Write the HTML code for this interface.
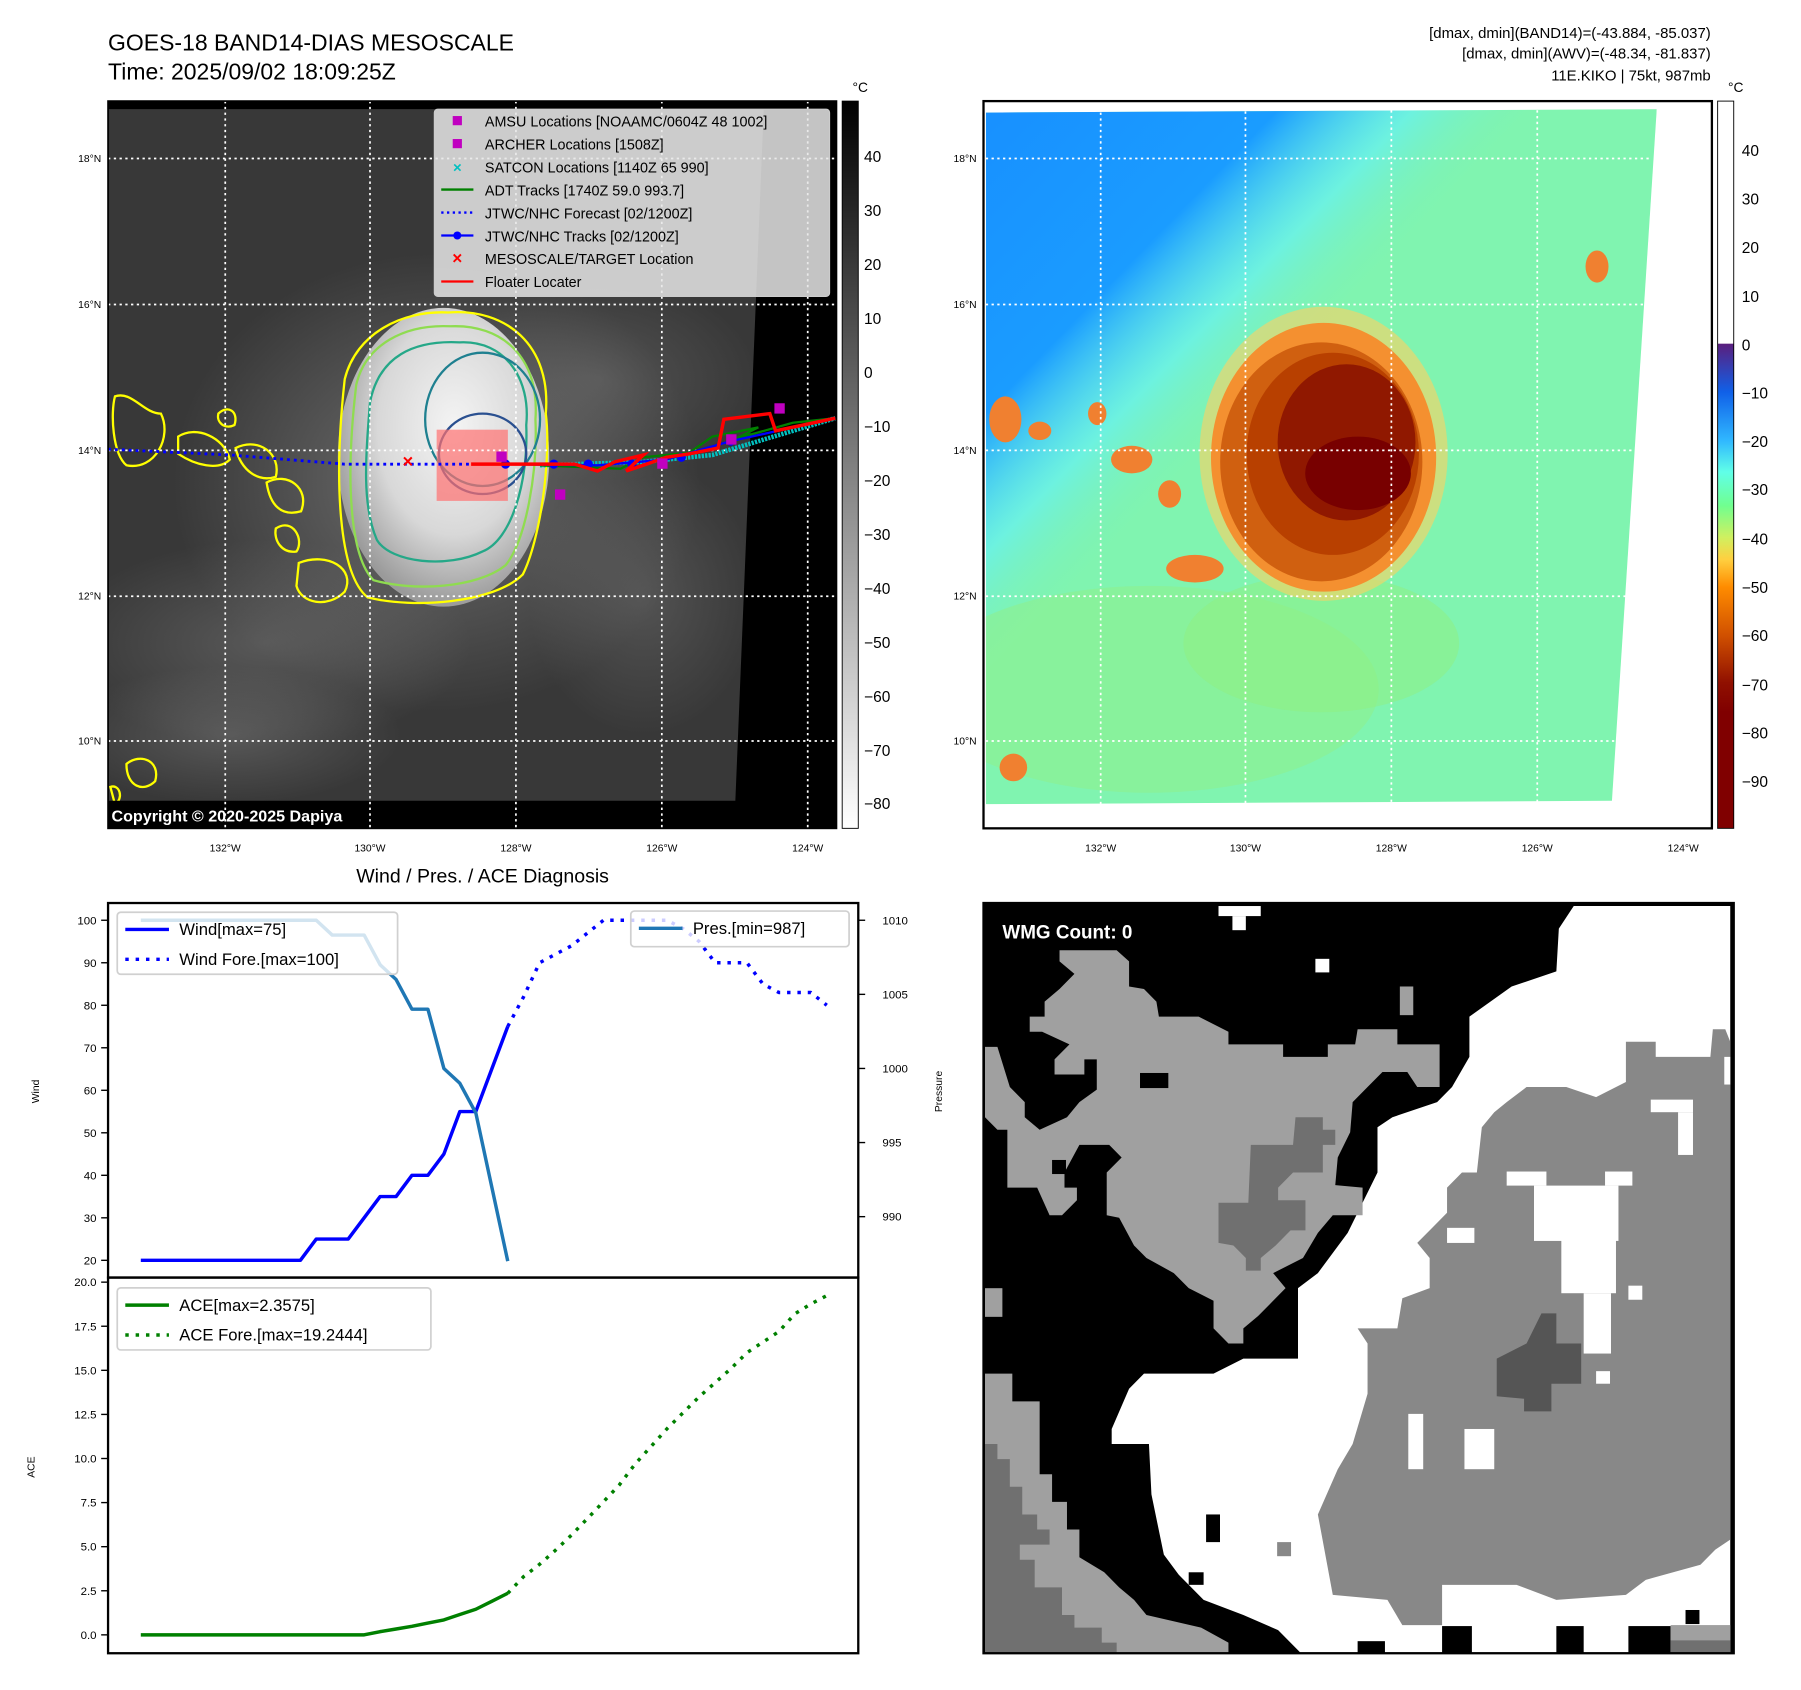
<!DOCTYPE html>
<html><head><meta charset="utf-8"><style>
html,body{margin:0;padding:0;background:#fff;}
svg{display:block;font-family:"Liberation Sans","DejaVu Sans",sans-serif;}
</style></head><body>
<svg id="root" width="1801" height="1690" viewBox="0 0 1567.5 1471" xmlns="http://www.w3.org/2000/svg">
<defs>
<linearGradient id="grayBar" x1="0" y1="0" x2="0" y2="1"><stop offset="0" stop-color="#000"/><stop offset="1" stop-color="#fff"/></linearGradient>
<linearGradient id="awvBar" gradientUnits="userSpaceOnUse" x1="0" y1="88" x2="0" y2="721">
<stop offset="0" stop-color="#fff"/><stop offset="0.333" stop-color="#fff"/><stop offset="0.334" stop-color="#5a1f7e"/>
<stop offset="0.4" stop-color="#1060e8"/><stop offset="0.467" stop-color="#30b8ff"/><stop offset="0.51" stop-color="#60ffe8"/>
<stop offset="0.556" stop-color="#70ff90"/><stop offset="0.6" stop-color="#d0f060"/><stop offset="0.63" stop-color="#ffd040"/>
<stop offset="0.668" stop-color="#ff8c00"/><stop offset="0.735" stop-color="#d05000"/><stop offset="0.8" stop-color="#901000"/>
<stop offset="0.84" stop-color="#800000"/><stop offset="1" stop-color="#800000"/></linearGradient>
<radialGradient id="core" cx="0.55" cy="0.4" r="0.6"><stop offset="0" stop-color="#f4f4f4"/><stop offset="0.6" stop-color="#d8d8d8"/><stop offset="1" stop-color="#9a9a9a"/></radialGradient>
<radialGradient id="haze" cx="0.5" cy="0.5" r="0.5"><stop offset="0" stop-color="#9a9a9a" stop-opacity="0.55"/><stop offset="1" stop-color="#9a9a9a" stop-opacity="0"/></radialGradient>
<linearGradient id="blueSky" x1="0" y1="0" x2="1" y2="1"><stop offset="0" stop-color="#1890ff"/><stop offset="0.22" stop-color="#1a9cff"/><stop offset="0.32" stop-color="#60f0ff" stop-opacity="0.6"/><stop offset="0.42" stop-color="#80f0a8" stop-opacity="0"/></linearGradient>
<clipPath id="clipL"><rect x="94" y="88" width="634" height="633"/></clipPath>
<clipPath id="clipR"><polygon points="858,98 1442,95 1403,697 858,700"/></clipPath>
</defs>

<text x="94" y="44" font-size="20">GOES-18 BAND14-DIAS MESOSCALE</text>
<text x="94" y="69" font-size="20">Time: 2025/09/02 18:09:25Z</text>
<g font-size="13" text-anchor="end">
<text x="1489" y="33">[dmax, dmin](BAND14)=(-43.884, -85.037)</text>
<text x="1489" y="51">[dmax, dmin](AWV)=(-48.34, -81.837)</text>
<text x="1489" y="70">11E.KIKO | 75kt, 987mb</text>
</g>

<!-- LEFT MAP -->
<g clip-path="url(#clipL)">
<rect x="94" y="88" width="634" height="633" fill="#383838"/>
<ellipse cx="380" cy="420" rx="230" ry="200" fill="url(#haze)"/>
<ellipse cx="230" cy="560" rx="180" ry="90" fill="url(#haze)" opacity="0.6"/>
<ellipse cx="520" cy="330" rx="140" ry="90" fill="url(#haze)" opacity="0.5"/>
<ellipse cx="560" cy="520" rx="100" ry="120" fill="url(#haze)" opacity="0.5"/>
<ellipse cx="200" cy="640" rx="150" ry="60" fill="url(#haze)" opacity="0.6"/>
<ellipse cx="386" cy="398" rx="92" ry="130" fill="url(#core)"/>
<path d="M300,330 C310,290 350,270 390,272 C440,268 480,300 475,360 C480,400 470,470 455,500 C430,525 360,530 320,520 C295,500 290,420 300,330Z" fill="none" stroke="#ffff00" stroke-width="2"/>
<path d="M310,335 C318,300 352,282 392,284 C436,282 470,310 466,365 C468,410 458,470 440,492 C415,512 360,515 325,505 C305,485 300,420 310,335Z" fill="none" stroke="#8fdc50" stroke-width="2"/>
<path d="M322,350 C330,310 360,296 400,298 C440,296 462,330 458,370 C460,420 445,470 420,480 C390,495 340,490 328,470 C315,440 318,400 322,350Z" fill="none" stroke="#25a888" stroke-width="2"/>
<ellipse cx="420" cy="365" rx="50" ry="58" fill="none" stroke="#1f8090" stroke-width="2"/>
<ellipse cx="420" cy="395" rx="38" ry="35" fill="none" stroke="#2a5090" stroke-width="2"/>
<rect x="380" y="374" width="62" height="62" fill="#ff7070" opacity="0.7"/>
<g fill="none" stroke="#ffff00" stroke-width="2">
<path d="M100,345 C115,340 125,360 140,360 C150,380 135,410 110,405 C98,395 96,360 100,345Z"/>
<path d="M155,380 C170,370 195,380 200,400 C190,410 170,405 155,395Z"/>
<path d="M205,390 C225,380 245,395 240,415 C225,420 210,410 205,390Z"/>
<path d="M232,420 C250,410 270,425 262,445 C245,450 235,440 232,420Z"/>
<path d="M240,460 C255,450 265,470 258,480 C245,482 238,470 240,460Z"/>
<path d="M260,490 C285,480 310,495 300,515 C285,530 262,525 258,510Z"/>
<path d="M190,360 C198,352 208,358 204,370 C196,374 188,368 190,360Z"/>
<path d="M110,665 C122,655 140,662 135,680 C125,690 110,685 110,665Z"/>
<path d="M96,685 C104,682 108,695 100,700Z"/>
</g>
<polygon points="665,88 728,88 728,721 94,721 94,697 640,697" fill="#000"/>
<rect x="94" y="88" width="634" height="7" fill="#000"/>
<g stroke="#fff" stroke-width="1.5" stroke-dasharray="2,3">
<line x1="196" y1="88" x2="196" y2="721"/><line x1="322" y1="88" x2="322" y2="721"/><line x1="449" y1="88" x2="449" y2="721"/><line x1="576" y1="88" x2="576" y2="721"/><line x1="703" y1="88" x2="703" y2="721"/>
<line x1="94" y1="138" x2="728" y2="138"/><line x1="94" y1="265" x2="728" y2="265"/><line x1="94" y1="392" x2="728" y2="392"/><line x1="94" y1="519" x2="728" y2="519"/><line x1="94" y1="645" x2="728" y2="645"/>
</g>
<polyline points="94,391 200,396 300,404 410,404" fill="none" stroke="#0000ff" stroke-width="2.5" stroke-dasharray="2.5,3.5"/>
<polyline points="470,405 560,402 620,396 680,378 727,364" fill="none" stroke="#00c0c0" stroke-width="4" stroke-dasharray="2,1"/>
<polyline points="470,405 540,408 560,398 600,394 620,380 660,372 640,382 690,368 727,364" fill="none" stroke="#008000" stroke-width="2"/>
<polyline points="440,404 520,405 580,400 636,384 727,364" fill="none" stroke="#0000ff" stroke-width="2"/>
<g fill="#0000ff"><circle cx="440" cy="404" r="4"/><circle cx="482" cy="404" r="4"/><circle cx="512" cy="404" r="4"/><circle cx="550" cy="404" r="4"/><circle cx="593" cy="398" r="4"/><circle cx="636" cy="384" r="4"/></g>
<polyline points="410,404 500,404 520,410 535,402 560,396 545,410 580,398 600,395 625,390 630,365 670,360 675,375 727,364" fill="none" stroke="#ff0000" stroke-width="3"/>
<g fill="#c000c0"><rect x="432" y="393" width="9" height="9"/><rect x="483" y="426" width="9" height="9"/><rect x="674" y="351" width="9" height="9"/><rect x="632" y="378" width="9" height="9"/><rect x="572" y="399" width="9" height="9"/></g>
<text x="355" y="407" fill="#ff0000" font-size="16" font-weight="bold" text-anchor="middle">×</text>
<text x="97" y="715" fill="#fff" font-size="14" font-weight="bold">Copyright © 2020-2025 Dapiya</text>
</g>
<rect x="94" y="88" width="634" height="633" fill="none" stroke="#000" stroke-width="1.5"/>
<g font-size="12.5">
<rect x="378" y="95" width="344" height="163" rx="3" fill="#e6e6e6" fill-opacity="0.85" stroke="#ccc"/>
<rect x="394" y="101" width="8" height="8" fill="#c000c0"/><text x="422" y="110">AMSU Locations [NOAAMC/0604Z 48 1002]</text>
<rect x="394" y="121" width="8" height="8" fill="#c000c0"/><text x="422" y="130">ARCHER Locations [1508Z]</text>
<text x="398" y="150" fill="#00c0c0" font-size="13" font-weight="bold" text-anchor="middle">×</text><text x="422" y="150">SATCON Locations [1140Z 65 990]</text>
<line x1="384" y1="165" x2="412" y2="165" stroke="#008000" stroke-width="2"/><text x="422" y="170">ADT Tracks [1740Z 59.0 993.7]</text>
<line x1="384" y1="185" x2="412" y2="185" stroke="#0000ff" stroke-width="2" stroke-dasharray="2,3"/><text x="422" y="190">JTWC/NHC Forecast [02/1200Z]</text>
<line x1="384" y1="205" x2="412" y2="205" stroke="#0000ff" stroke-width="2"/><circle cx="398" cy="205" r="3.5" fill="#0000ff"/><text x="422" y="210">JTWC/NHC Tracks [02/1200Z]</text>
<text x="398" y="230" fill="#ff0000" font-size="15" font-weight="bold" text-anchor="middle">×</text><text x="422" y="230">MESOSCALE/TARGET Location</text>
<line x1="384" y1="245" x2="412" y2="245" stroke="#ff0000" stroke-width="2"/><text x="422" y="250">Floater Locater</text>
</g>
<g font-size="13.5">
<rect x="733" y="88" width="14" height="633" fill="url(#grayBar)" stroke="#000" stroke-width="0.8"/>
<text x="742" y="80" font-size="12">°C</text>
<text x="752" y="141">40</text><text x="752" y="188">30</text><text x="752" y="235">20</text><text x="752" y="282">10</text><text x="752" y="329">0</text>
<text x="752" y="376">−10</text><text x="752" y="423">−20</text><text x="752" y="470">−30</text><text x="752" y="517">−40</text><text x="752" y="564">−50</text>
<text x="752" y="611">−60</text><text x="752" y="658">−70</text><text x="752" y="704">−80</text>
</g>
<g font-size="9">
<text x="88" y="141" text-anchor="end">18°N</text><text x="88" y="268" text-anchor="end">16°N</text><text x="88" y="395" text-anchor="end">14°N</text><text x="88" y="522" text-anchor="end">12°N</text><text x="88" y="648" text-anchor="end">10°N</text>
<g text-anchor="middle"><text x="196" y="741">132°W</text><text x="322" y="741">130°W</text><text x="449" y="741">128°W</text><text x="576" y="741">126°W</text><text x="703" y="741">124°W</text></g>
</g>

<!-- RIGHT MAP -->
<g>
<g clip-path="url(#clipR)">
<rect x="858" y="90" width="590" height="612" fill="#80f4b0"/>
<rect x="858" y="90" width="590" height="612" fill="url(#blueSky)"/>
<ellipse cx="1000" cy="600" rx="200" ry="90" fill="#8ef090" opacity="0.6"/>
<ellipse cx="1150" cy="560" rx="120" ry="60" fill="#90f080" opacity="0.5"/>
<ellipse cx="1152" cy="395" rx="108" ry="128" fill="#ffd060" opacity="0.6"/>
<ellipse cx="1152" cy="398" rx="98" ry="117" fill="#f49030"/>
<ellipse cx="1150" cy="402" rx="88" ry="104" fill="#d06010"/>
<ellipse cx="1160" cy="395" rx="75" ry="88" fill="#b84000"/>
<ellipse cx="1172" cy="385" rx="60" ry="68" fill="#901800"/>
<ellipse cx="1182" cy="412" rx="46" ry="32" fill="#780000"/>
<g fill="#f08030">
<ellipse cx="875" cy="365" rx="14" ry="20"/><ellipse cx="905" cy="375" rx="10" ry="8"/><ellipse cx="955" cy="360" rx="8" ry="10"/>
<ellipse cx="985" cy="400" rx="18" ry="12"/><ellipse cx="1018" cy="430" rx="10" ry="12"/><ellipse cx="1040" cy="495" rx="25" ry="12"/>
<ellipse cx="882" cy="668" rx="12" ry="12"/><ellipse cx="1390" cy="232" rx="10" ry="14"/>
</g>
</g>
<g stroke="#fff" stroke-width="1.5" stroke-dasharray="2,3">
<line x1="958" y1="98" x2="958" y2="700"/><line x1="1084" y1="97" x2="1084" y2="700"/><line x1="1211" y1="96" x2="1211" y2="700"/><line x1="1338" y1="96" x2="1338" y2="698"/>
<line x1="858" y1="138" x2="1438" y2="138"/><line x1="858" y1="265" x2="1430" y2="265"/><line x1="858" y1="392" x2="1421" y2="392"/><line x1="858" y1="519" x2="1415" y2="519"/><line x1="858" y1="645" x2="1407" y2="645"/>
</g>
<rect x="856" y="88" width="634" height="633" fill="none" stroke="#000" stroke-width="2"/>
</g>
<g font-size="13.5">
<rect x="1495" y="88" width="14" height="633" fill="url(#awvBar)" stroke="#000" stroke-width="0.8"/>
<text x="1504" y="80" font-size="12">°C</text>
<text x="1516" y="136">40</text><text x="1516" y="178">30</text><text x="1516" y="220">20</text><text x="1516" y="263">10</text><text x="1516" y="305">0</text>
<text x="1516" y="347">−10</text><text x="1516" y="389">−20</text><text x="1516" y="431">−30</text><text x="1516" y="474">−40</text><text x="1516" y="516">−50</text>
<text x="1516" y="558">−60</text><text x="1516" y="601">−70</text><text x="1516" y="643">−80</text><text x="1516" y="685">−90</text>
</g>
<g font-size="9">
<text x="850" y="141" text-anchor="end">18°N</text><text x="850" y="268" text-anchor="end">16°N</text><text x="850" y="395" text-anchor="end">14°N</text><text x="850" y="522" text-anchor="end">12°N</text><text x="850" y="648" text-anchor="end">10°N</text>
<g text-anchor="middle"><text x="958" y="741">132°W</text><text x="1084" y="741">130°W</text><text x="1211" y="741">128°W</text><text x="1338" y="741">126°W</text><text x="1465" y="741">124°W</text></g>
</g>

<!-- WMG panel -->
<g>
<svg x="856" y="786" width="653" height="653" viewBox="7 24 1510 1492" preserveAspectRatio="none" overflow="hidden">
<rect x="8" y="25" width="1508" height="1490" fill="#000"/>
<polygon fill="#fff" points="1165,75 1195,30 1510,30 1510,1515 645,1515 600,1470 530,1440 450,1410 400,1360 370,1320 345,1200 340,1100 265,1100 265,1070 300,990 330,960 470,960 530,930 640,930 640,790 680,760 740,680 800,560 800,470 830,450 920,420 950,390 985,330 985,250 1070,190 1160,160"/>
<polygon fill="#888" points="1300,300 1360,300 1360,330 1470,330 1475,275 1500,275 1510,300 1510,1290 1480,1310 1450,1340 1340,1370 1300,1400 1160,1410 1080,1380 930,1380 930,1460 850,1460 820,1410 710,1400 680,1240 720,1150 750,1100 780,1000 780,900 760,870 840,870 850,810 905,790 905,730 880,700 910,670 940,640 940,590 970,560 1000,560 1010,470 1035,440 1060,420 1100,390 1180,390 1240,410 1300,380"/>
<g fill="#fff"><rect x="1060" y="558" width="80" height="28"/><rect x="1115" y="586" width="170" height="110"/><rect x="1170" y="690" width="110" height="110"/><rect x="1215" y="800" width="55" height="120"/><rect x="1350" y="415" width="85" height="25"/><rect x="1405" y="440" width="30" height="85"/><rect x="1258" y="558" width="55" height="28"/><rect x="975" y="1070" width="60" height="80"/><rect x="862" y="1040" width="30" height="110"/><rect x="940" y="670" width="55" height="30"/><rect x="1305" y="785" width="28" height="28"/><rect x="1240" y="955" width="28" height="25"/><rect x="480" y="30" width="85" height="20"/><rect x="508" y="50" width="27" height="28"/><rect x="675" y="135" width="28" height="27"/><rect x="1498" y="330" width="12" height="55"/></g>
<polygon fill="#555" points="1040,930 1100,900 1130,840 1160,840 1160,900 1210,900 1210,980 1150,980 1150,1035 1095,1035 1095,1010 1040,1005"/>
<polygon fill="#a0a0a0" points="160,118 275,118 300,140 300,190 330,195 355,220 360,250 440,250 500,280 500,305 610,305 610,330 700,330 700,305 755,305 760,275 840,275 840,305 925,305 925,390 880,390 860,360 810,360 780,390 750,420 745,480 720,530 715,585 770,590 770,645 710,645 680,680 650,730 590,760 615,790 590,815 560,845 530,870 530,900 500,900 470,870 470,815 420,790 390,760 335,730 310,705 280,650 255,645 255,560 285,530 260,505 200,505 170,560 170,590 195,590 195,615 165,645 140,645 115,590 55,590 55,475 35,475 10,450 10,310 35,310 60,390 90,420 90,450 120,475 175,450 200,420 235,395 235,335 210,335 210,365 150,365 150,335 180,305 125,280 100,280 100,250 130,250 130,220 160,195 190,165 160,140"/>
<g fill="#000"><rect x="322" y="362" width="57" height="30"/><rect x="145" y="535" width="28" height="28"/></g>
<rect x="845" y="190" width="27" height="57" fill="#a0a0a0"/>
<rect x="10" y="790" width="35" height="57" fill="#a0a0a0"/>
<polygon fill="#707070" points="635,450 690,450 690,475 715,475 715,505 690,505 690,560 630,560 600,590 600,615 655,615 655,675 625,675 595,705 565,730 565,755 535,755 535,730 510,705 480,700 480,620 540,620 545,505 630,505"/>
<polygon fill="#a0a0a0" points="10,960 65,960 65,1015 120,1015 120,1160 145,1160 145,1215 175,1215 175,1270 200,1270 200,1325 250,1355 280,1385 310,1410 335,1440 445,1465 500,1495 500,1515 10,1515"/>
<polygon fill="#707070" points="10,1100 35,1100 35,1130 60,1130 60,1185 85,1185 85,1240 115,1240 115,1270 140,1270 140,1300 80,1300 80,1330 110,1330 110,1385 165,1385 165,1440 190,1440 190,1465 245,1465 245,1495 275,1495 275,1515 10,1515"/>
<g fill="#000"><rect x="455" y="1240" width="28" height="55"/><rect x="420" y="1355" width="30" height="25"/><rect x="1420" y="1430" width="28" height="28"/><rect x="930" y="1462" width="60" height="53"/><rect x="1160" y="1462" width="55" height="53"/><rect x="1305" y="1462" width="85" height="53"/><rect x="760" y="1492" width="55" height="23"/></g>
<rect x="1390" y="1460" width="120" height="30" fill="#a0a0a0"/><rect x="1390" y="1490" width="120" height="25" fill="#707070"/>
<rect x="598" y="1295" width="28" height="28" fill="#888"/>
<text x="45" y="95" fill="#fff" font-size="38" font-weight="bold">WMG Count: 0</text>
</svg>
<rect x="856" y="786" width="653" height="653" fill="none" stroke="#000" stroke-width="2"/>
</g>

<text x="420" y="768" font-size="17" text-anchor="middle">Wind / Pres. / ACE Diagnosis</text>
<g id="charts"></g>
</svg>
<script>
const windObs = [20,20,20,20,20,20,20,20,20,20,20,25,25,25,30,35,35,40,40,45,55,55,65,75];
const windFcst = [75,82,90,92,94,97,100,100,100,100,100,98,95,90,90,90,85,83,83,83,80];
const presObs = [1010,1010,1010,1010,1010,1010,1010,1010,1010,1010,1010,1010,1009,1009,1009,1007,1006,1004,1004,1000,999,997,992,987];
const aceObs = [0,0,0,0,0,0,0,0,0,0,0,0,0,0,0,0.18,0.33,0.48,0.67,0.85,1.15,1.45,1.9,2.36];
const aceFcst = [2.36,3.3,4.0,4.8,5.66,6.6,7.55,8.5,9.7,10.7,11.7,12.6,13.5,14.3,15.1,16.0,16.6,17.2,18.2,18.76,19.24];
const windTicks = [20,30,40,50,60,70,80,90,100];
const presTicks = [990,995,1000,1005,1010];
const aceTicks = [0,2.5,5,7.5,10,12.5,15,17.5,20];

const NS='http://www.w3.org/2000/svg';
const G=document.getElementById('charts');
function mk(tag,attrs,parent){const e=document.createElementNS(NS,tag);for(const k in attrs)e.setAttribute(k,attrs[k]);(parent||G).appendChild(e);return e;}
const xS=i=>122.5+13.885*i;
const yW=v=>801+(100-v)*3.7;
const yP=v=>801+(1010-v)*12.9;
const yA=v=>1423-v*15.35;
const obsN=windObs.length-1;

let f1=mk('rect',{x:94,y:786,width:653,height:326,fill:'none',stroke:'#000','stroke-width':2});


let f2=mk('rect',{x:94,y:1112,width:653,height:327,fill:'none',stroke:'#000','stroke-width':2});



function tick(x1,y,x2,lbl,tx,anchor,name){
  const g=mk('g',{});
  
  
  mk('line',{x1:x1,y1:y,x2:x2,y2:y,stroke:'#000','stroke-width':1.2},g);
  const t=mk('text',{x:tx,y:y+3.5,'font-size':10,'text-anchor':anchor},g);t.textContent=lbl;
}
windTicks.forEach(v=>tick(88,yW(v),94,String(v),84,'end','wind-tick'));
presTicks.forEach(v=>tick(747,yP(v),753,String(v),768,'start','pressure-tick'));
aceTicks.forEach(v=>tick(88,yA(v),94,v.toFixed(1),84,'end','ace-tick'));

function axLabel(x,y,txt,name){const t=mk('text',{x:x,y:y,'font-size':9,'text-anchor':'middle',transform:`rotate(-90 ${x} ${y})`});t.textContent=txt;

}
axLabel(34,950,'Wind','wind-axis-title');
axLabel(820,950,'Pressure','pressure-axis-title');
axLabel(30,1277,'ACE','ace-axis-title');

function line(vals,off,yf,color,dash,name){
  const pts=vals.map((v,i)=>xS(i+off).toFixed(1)+','+yf(v).toFixed(1)).join(' ');
  const a={points:pts,fill:'none',stroke:color,'stroke-width':3,'stroke-linejoin':'round'};
  if(dash)a['stroke-dasharray']=dash;
  const p=mk('polyline',a);
  
  
}
line(windFcst,obsN,yW,'#0000ff','3,6','wind-forecast-line');
line(windObs,0,yW,'#0000ff',null,'wind-line');
line(presObs,0,yP,'#1f77b4',null,'pressure-line');
line(aceFcst,obsN,yA,'#008000','3,6','ace-forecast-line');
line(aceObs,0,yA,'#008000',null,'ace-line');

function legend(x,y,w,h,items,name){
  const g=mk('g',{});
  
  
  mk('rect',{x:x,y:y,width:w,height:h,rx:3,fill:'#fff','fill-opacity':0.8,stroke:'#d0d0d0','stroke-width':1.5},g);
  items.forEach((it,k)=>{const yy=y+15+k*26;
    const a={x1:x+7,y1:yy,x2:x+45,y2:yy,stroke:it[1],'stroke-width':3};if(it[2])a['stroke-dasharray']='3,6';
    mk('line',a,g);const t=mk('text',{x:x+54,y:yy+5,'font-size':14.5},g);t.textContent=it[0];});
}
legend(102,794,244,54,[['Wind[max=75]','#0000ff',0],['Wind Fore.[max=100]','#0000ff',1]],'wind-legend');
legend(549,793,190,31,[['Pres.[min=987]','#1f77b4',0]],'pressure-legend');
legend(102,1121,273,54,[['ACE[max=2.3575]','#008000',0],['ACE Fore.[max=19.2444]','#008000',1]],'ace-legend');
</script>
</body></html>
